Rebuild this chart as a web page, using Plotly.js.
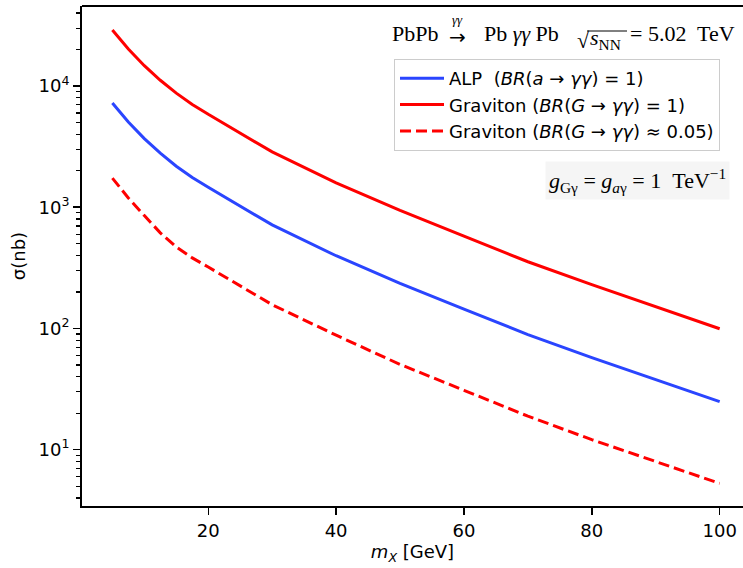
<!DOCTYPE html>
<html>
<head>
<meta charset="utf-8">
<script src="https://cdn.plot.ly/plotly-3.0.1.min.js"></script>
<style>html,body{margin:0;padding:0;background:#fff;}</style>
</head>
<body>
<div id="chart" style="width:743px;height:568px;"></div>
<script>
// ---- data ----
const massGeV        = [5, 7.5, 10, 12.5, 15, 17.5, 20, 30, 40, 50, 60, 70, 80, 90, 100];
const sigmaALP       = [7250, 5050, 3680, 2790, 2180, 1760, 1460, 715, 398, 235, 144.5, 89, 57.5, 38, 24.9];
const sigmaGraviton  = [29000, 20200, 14700, 11150, 8730, 7050, 5840, 2860, 1590, 940, 578, 355, 230, 152, 99.5];
const sigmaGravBR005 = [1740, 1192, 853, 615, 470, 382, 321, 157, 88, 50.5, 30.9, 18.9, 12.1, 8.0, 5.27];
const seriesNames = [
  'ALP  (<i>BR</i>(<i>a</i> → <i>γγ</i>) = 1)',
  'Graviton (<i>BR</i>(<i>G</i> → <i>γγ</i>) = 1)',
  'Graviton (<i>BR</i>(<i>G</i> → <i>γγ</i>) ≈ 0.05)'
];
const xTickVals = [20, 40, 60, 80, 100];
const yTickVals = [10, 100, 1000, 10000];
const yTickText = ['10<sup>1</sup>', '10<sup>2</sup>', '10<sup>3</sup>', '10<sup>4</sup>'];

// ---- layout helpers (pixel -> paper) ----
const L = 82, R = 743, T = 6, B = 506;
const px = p => (p - L) / (R - L);
const py = p => 1 - (p - T) / (B - T);

const minorVals = [];
[1, 10, 100, 1000, 10000].forEach(d => { for (let k = 2; k <= 9; k++) minorVals.push(k * d); });

const sans = 'DejaVu Sans, sans-serif';
const serif = 'Liberation Serif, serif';
const black = '#000000';

const traces = [
  {x: massGeV, y: sigmaALP, name: seriesNames[0], mode: 'lines',
   line: {color: '#2a45ff', width: 3}},
  {x: massGeV, y: sigmaGraviton, name: seriesNames[1], mode: 'lines',
   line: {color: '#ff0000', width: 3}},
  {x: massGeV, y: sigmaGravBR005, name: seriesNames[2], mode: 'lines',
   line: {color: '#ff0000', width: 3, dash: '11px,5px'}}
];

function ann(text, x, y, xanchor, size, extra, family) {
  return Object.assign({xref: 'paper', yref: 'paper', x: px(x), y: py(y), xanchor: xanchor,
    yanchor: 'middle', showarrow: false, text: text,
    font: {family: family || serif, size: size, color: black}}, extra || {});
}

const layout = {
  width: 743, height: 568,
  margin: {l: L, r: 0, t: T, b: 568 - B, pad: 0},
  paper_bgcolor: '#ffffff', plot_bgcolor: '#ffffff',
  showlegend: true,
  legend: {
    x: px(394), y: py(59), xanchor: 'left', yanchor: 'top',
    bgcolor: 'rgba(255,255,255,0.8)', bordercolor: '#cccccc', borderwidth: 1,
    itemwidth: 44,
    font: {family: sans, size: 18, color: black}
  },
  xaxis: {
    range: [0.25, 103.65], showgrid: false, zeroline: false,
    showline: true, linecolor: black, linewidth: 2,
    ticks: 'outside', ticklen: 7, tickwidth: 1.5, tickcolor: black,
    tickvals: xTickVals, tickfont: {family: sans, size: 18, color: black},
    title: {text: '<i>m</i><sub><i>X</i></sub> [GeV]', font: {family: sans, size: 18, color: black}, standoff: 6}
  },
  yaxis: {
    type: 'log', range: [0.5355, 4.66], showgrid: false, zeroline: false,
    showline: true, linecolor: black, linewidth: 2,
    ticks: 'outside', ticklen: 7, tickwidth: 1.5, tickcolor: black,
    tickvals: yTickVals, ticktext: yTickText,
    tickfont: {family: sans, size: 18, color: black},
    minor: {tickvals: minorVals, ticks: 'outside', ticklen: 4, tickwidth: 1.2, tickcolor: black, showgrid: false},
    title: {text: 'σ(nb)', font: {family: sans, size: 18, color: black}, standoff: 8}
  },
  shapes: [
    {type: 'line', xref: 'paper', yref: 'paper', x0: 0, x1: 1, y0: 1, y1: 1,
     line: {color: black, width: 2}},
    // radical overline of sqrt(s_NN)
    {type: 'line', xref: 'paper', yref: 'paper', x0: px(587), x1: px(627), y0: py(31), y1: py(31),
     line: {color: black, width: 1}}
  ],
  annotations: [
    ann('PbPb', 390, 33, 'left', 22),
    ann('→', 457, 37, 'center', 20, {}, sans),
    ann('<i>γγ</i>', 457, 19, 'center', 13),
    ann('Pb <i>γγ</i> Pb', 482, 33, 'left', 22),
    ann('√', 583, 40, 'center', 22),
    ann('<i>s</i><sub>NN</sub>', 588, 39, 'left', 22),
    ann('= 5.02  TeV', 737, 33, 'right', 22),
    ann('<i>g</i><sub>Gγ</sub> = <i>g</i><sub><i>a</i>γ</sub> = 1  TeV<sup>−1</sup>', 730, 180, 'right', 22,
        {bgcolor: '#f5f5f5', borderpad: 3})
  ]
};

Plotly.newPlot('chart', traces, layout, {displayModeBar: false, staticPlot: true});
</script>
</body>
</html>
